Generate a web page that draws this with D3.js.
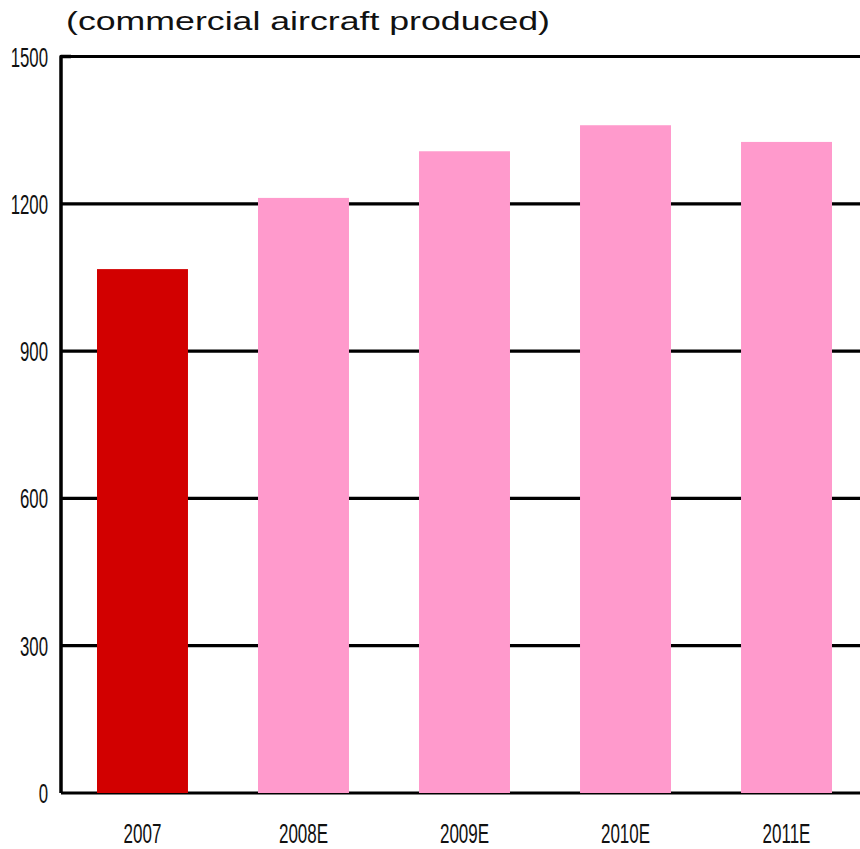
<!DOCTYPE html>
<html>
<head>
<meta charset="utf-8">
<script src="https://cdn.jsdelivr.net/npm/d3@7"></script>
<style>
  html, body { margin: 0; padding: 0; background: #fff; }
  svg { display: block; }
</style>
</head>
<body>
<svg id="chart" width="860" height="849"></svg>
<script>
// Commercial aircraft production, actual and estimated
const categories = ["2007", "2008E", "2009E", "2010E", "2011E"];
const produced = [1067, 1212, 1307, 1360, 1326];
const isEstimate = [false, true, true, true, true];
const yTicks = [0, 300, 600, 900, 1200, 1500];
const titleText = "(commercial aircraft produced)";

const svg = d3.select("#chart");
const plotLeft = 61, plotTop = 56.5, plotBottom = 793, plotRight = 867;

const y = d3.scaleLinear().domain([0, 1500]).range([plotBottom, plotTop]);
const x = d3.scaleBand()
  .domain(categories)
  .range([plotLeft + 1, plotRight])
  .paddingInner(0.435)
  .paddingOuter(0.2174);

// Horizontal gridlines
svg.append("g")
  .selectAll("line")
  .data(yTicks)
  .join("line")
  .attr("x1", plotLeft)
  .attr("x2", 860)
  .attr("y1", d => y(d))
  .attr("y2", d => y(d))
  .attr("stroke", "#000")
  .attr("stroke-width", 3.2);

// Left axis line with rounded corner at the top
svg.append("path")
  .attr("d", `M${plotLeft},${y(0)}V${y(1500)}H${plotLeft + 10}`)
  .attr("fill", "none")
  .attr("stroke", "#000")
  .attr("stroke-width", 3.5)
  .attr("stroke-linejoin", "round");

// Bars
svg.append("g")
  .selectAll("rect")
  .data(categories)
  .join("rect")
  .attr("x", d => x(d))
  .attr("width", x.bandwidth())
  .attr("y", (d, i) => y(produced[i]))
  .attr("height", (d, i) => y(0) - y(produced[i]))
  .attr("fill", (d, i) => isEstimate[i] ? "#FF9ACC" : "#D20000");

// Y tick labels (condensed)
svg.append("g")
  .selectAll("text")
  .data(yTicks)
  .join("text")
  .attr("transform", d => `translate(48,${y(d) + 10}) scale(0.6,1)`)
  .attr("text-anchor", "end")
  .attr("font-family", "Liberation Sans, Arial, sans-serif")
  .attr("font-size", 28)
  .attr("fill", "#111")
  .text(d => d);

// X category labels (condensed)
svg.append("g")
  .selectAll("text")
  .data(categories)
  .join("text")
  .attr("transform", d => `translate(${x(d) + x.bandwidth() / 2},843) scale(0.63,1)`)
  .attr("text-anchor", "middle")
  .attr("font-family", "Liberation Sans, Arial, sans-serif")
  .attr("font-size", 27)
  .attr("fill", "#111")
  .text(d => d);

// Unit title
svg.append("text")
  .attr("x", 66)
  .attr("y", 30)
  .attr("font-family", "Liberation Sans, Arial, sans-serif")
  .attr("font-size", 25)
  .attr("textLength", 484)
  .attr("lengthAdjust", "spacingAndGlyphs")
  .attr("fill", "#111")
  .text(titleText);
</script>
</body>
</html>
